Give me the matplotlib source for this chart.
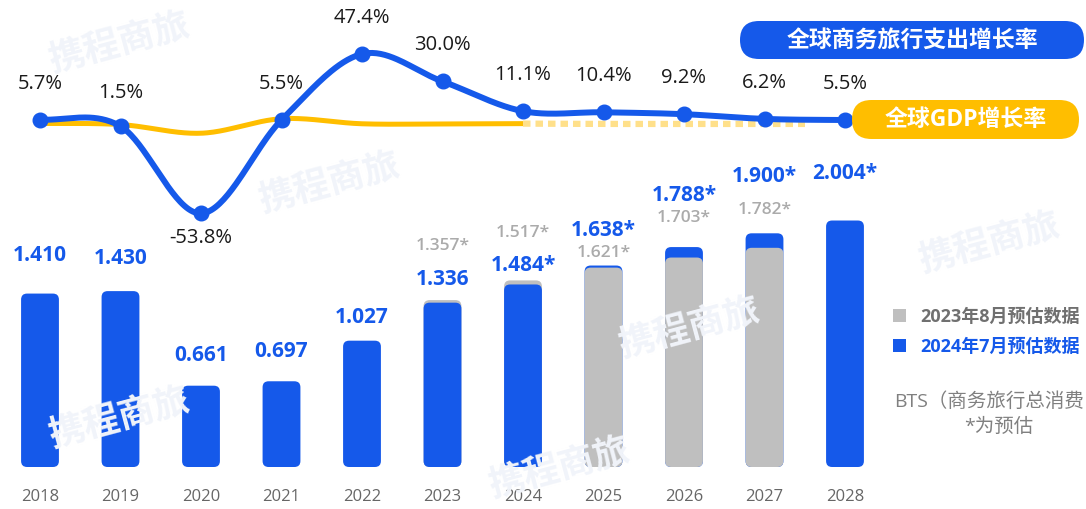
"""
Global business travel spending (BTS) and growth rate, 2018-2028
"""
import numpy as np
import matplotlib
matplotlib.use('Agg')
import matplotlib.pyplot as plt
from matplotlib.patches import FancyBboxPatch, Rectangle

plt.rcParams['font.family'] = ['Open Sans', 'Noto Sans CJK SC', 'DejaVu Sans']

# ---- data ----
years = ['2018', '2019', '2020', '2021', '2022', '2023', '2024',
         '2025', '2026', '2027', '2028']
bts_2024 = [1.410, 1.430, 0.661, 0.697, 1.027, 1.336, 1.484,
            1.638, 1.788, 1.900, 2.004]
bts_2024_labels = ['1.410', '1.430', '0.661', '0.697', '1.027', '1.336', '1.484*',
                   '1.638*', '1.788*', '1.900*', '2.004*']
bts_2023_years = ['2023', '2024', '2025', '2026', '2027']
bts_2023 = [1.357, 1.517, 1.621, 1.703, 1.782]
bts_growth = [5.7, 1.5, -53.8, 5.5, 47.4, 30.0, 11.1, 10.4, 9.2, 6.2, 5.5]
gdp_years = ['2018', '2019', '2020', '2021', '2022', '2023', '2024']
gdp_growth = [3.3, 2.6, -2.9, 6.3, 3.1, 3.0, 3.2]
gdp_fc_years = ['2024', '2025', '2026', '2027', '2028']
gdp_fc = [3.2, 3.0, 3.0, 3.0, 3.0]

# label offsets (px above bar top), hand placed in the original
blue_dy = [39, 34, 31, 31, 24, 24, 20, 36, 53, 58, 48]
gray_dy = [55, 48, 16, 41, 39]

BLUE = '#1559EA'
GRAY = '#BFBFBF'
YELLOW = '#FFBE00'
W, H = 1086, 510


def smooth(xs, ys, n=40):
    # catmull-rom through the points
    xs = np.asarray(xs, float)
    ys = np.asarray(ys, float)
    ox, oy = [], []
    for i in range(len(xs) - 1):
        y0 = ys[i - 1] if i > 0 else ys[i]
        y3 = ys[i + 2] if i + 2 < len(ys) else ys[i + 1]
        m1 = (ys[i + 1] - y0) / 2
        m2 = (y3 - ys[i]) / 2
        t = np.linspace(0, 1, n)
        h00 = 2 * t**3 - 3 * t**2 + 1
        h10 = t**3 - 2 * t**2 + t
        h01 = -2 * t**3 + 3 * t**2
        h11 = t**3 - t**2
        ox.append(xs[i] + t * (xs[i + 1] - xs[i]))
        oy.append(h00 * ys[i] + h10 * m1 + h01 * ys[i + 1] + h11 * m2)
    return np.concatenate(ox), np.concatenate(oy)


fig = plt.figure(figsize=(W / 100, H / 100), dpi=100)
fig.patch.set_facecolor('white')

# pixel scales: 80.5 px per year, 123 px per trillion, bars start 42 px from bottom
xpx, ypx = 80.5, 123.0
ax = fig.add_axes([0, 0, 1, 1])
ax.set_xlim(-40 / xpx, (W - 40) / xpx)
ax.set_ylim(-42 / ypx, (H - 42) / ypx)
ax.axis('off')

# faint watermark
for (wx, wy) in [(120, 45), (330, 185), (690, 330), (990, 245), (560, 470), (120, 420)]:
    fig.text(wx / W, 1 - wy / H, '携程商旅', fontsize=26, fontweight='bold',
             color='#F1F4FA', rotation=15, ha='center', va='center', zorder=0)

x = np.arange(len(years))
xg = np.array([years.index(y) for y in bts_2023_years])
bw = 0.47


def rounded_bar(xc, h, color, z):
    r = 6 / xpx
    p = FancyBboxPatch((xc - bw / 2, 0), bw, h,
                       boxstyle=f'round,pad=0,rounding_size={r}',
                       mutation_aspect=xpx / ypx,
                       fc=color, ec='none', zorder=z)
    ax.add_patch(p)


for i, v in enumerate(bts_2024):
    z = 2
    if years[i] in bts_2023_years:
        g = bts_2023[bts_2023_years.index(years[i])]
        z = 3 if v < g else 1
    rounded_bar(x[i], v, BLUE, z)
for xi, v in zip(xg, bts_2023):
    b = bts_2024[xi]
    rounded_bar(xi, v, GRAY, 3 if v < b else 1)

for i, (v, lab) in enumerate(zip(bts_2024, bts_2024_labels)):
    ax.annotate(lab, (x[i], v), xytext=(0, blue_dy[i] * 0.72), textcoords='offset points',
                ha='center', va='center', fontsize=15, fontweight='bold', color=BLUE, zorder=5)
for j, (xi, v) in enumerate(zip(xg, bts_2023)):
    ax.annotate(f'{v:.3f}*', (xi, v), xytext=(0, gray_dy[j] * 0.72), textcoords='offset points',
                ha='center', va='center', fontsize=12.5, fontweight='semibold',
                color='#ABABAB', zorder=5)

# x labels
for i, y in enumerate(years):
    ax.annotate(y, (x[i], 0), xytext=(0, -29 * 0.72), textcoords='offset points',
                ha='center', va='center', fontsize=12, color='#666666')

# ---- growth lines ----
ax2 = ax.twinx()
ax2.set_position([0, 0, 1, 1])
ax2.set_ylim(5.5 - (H - 121) / 1.575, 5.5 + 121 / 1.575)
ax2.axis('off')

xg_gdp = [years.index(y) for y in gdp_years]
sx, sy = smooth(xg_gdp, gdp_growth)
ax2.plot(sx, sy, color=YELLOW, lw=3.6, solid_capstyle='round', zorder=2)
xf = [years.index(y) for y in gdp_fc_years]
fx_, fy_ = smooth(xf, gdp_fc)
fline, = ax2.plot(fx_, fy_, color='#FFE08A', lw=4.5, ls=(0, (1.2, 0.8)), zorder=2)
fline.set_clip_path(Rectangle((-1, -300), 10.5, 400, transform=ax2.transData))

sx, sy = smooth(x, bts_growth)
ax2.plot(sx, sy, color=BLUE, lw=4.3, solid_capstyle='round', zorder=3)
ax2.plot(x, bts_growth, 'o', color=BLUE, ms=10.5, zorder=4)

for i, v in enumerate(bts_growth):
    dy = -24 if v < 0 else (34 if i == 1 else 37)
    ax2.annotate(f'{v:.1f}%', (x[i], v), xytext=(0, dy * 0.72), textcoords='offset points',
                 ha='center', va='center', fontsize=14.5, color='#1A1A1A', zorder=5)


# ---- pills ----
def pill(x0, y0, x1, y1, color, text):
    h = y1 - y0
    p = FancyBboxPatch((x0, H - y1), x1 - x0, h,
                       boxstyle=f'round,pad=0,rounding_size={h / 2}',
                       fc=color, ec='none', transform=None, zorder=6)
    fig.add_artist(p)
    fig.text((x0 + x1) / 2 / W, 1 - (y0 + y1) / 2 / H, text, ha='center', va='center',
             fontsize=16.5, fontweight='bold', color='white', zorder=7)


pill(740, 22, 1084, 60, BLUE, '全球商务旅行支出增长率')
pill(852, 101, 1079, 140, YELLOW, '全球GDP增长率')

# ---- legend ----
fig.add_artist(Rectangle((893, H - 323), 13, 13, fc=GRAY, ec='none', transform=None))
fig.add_artist(Rectangle((893, H - 353), 13, 13, fc=BLUE, ec='none', transform=None))
fig.text(920 / W, 1 - 317 / H, '2023年8月预估数据', ha='left', va='center',
         fontsize=13, fontweight='bold', color='#707070')
fig.text(920 / W, 1 - 347 / H, '2024年7月预估数据', ha='left', va='center',
         fontsize=13, fontweight='bold', color=BLUE)
fig.text(1084 / W, 1 - 402 / H, 'BTS（商务旅行总消费', ha='right', va='center',
         fontsize=14, color='#808080')
fig.text(999 / W, 1 - 427 / H, '*为预估', ha='center', va='center',
         fontsize=14, color='#808080')

fig.savefig('out.png', dpi=100, facecolor='white')
plt.close()
